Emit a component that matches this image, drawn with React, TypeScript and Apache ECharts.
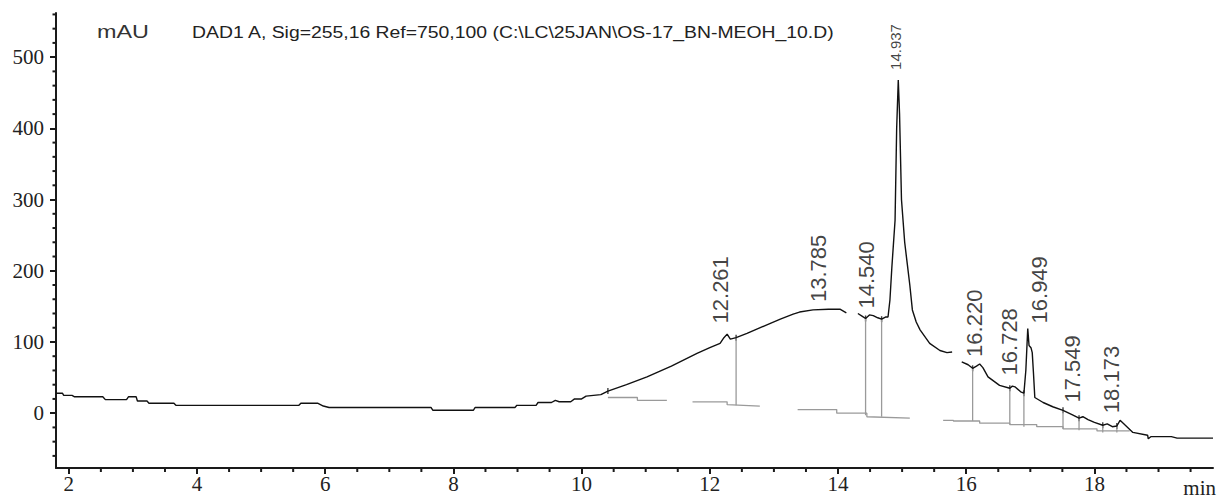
import React, { useEffect, useRef } from "react";
import * as echarts from "echarts";

// ---- data ----
const traceTime = [
  1.8, 1.9, 1.92, 2.05, 2.09, 2.53, 2.57, 2.9, 2.93, 3.05, 3.07, 3.22, 3.25, 3.64, 3.67, 5.59, 5.62, 5.88, 5.97, 6.06,
  7.65, 7.68, 8.31, 8.34, 8.96, 8.99, 9.29, 9.32, 9.53, 9.59, 9.65, 9.83, 9.89, 10.0, 10.07, 10.3, 10.41, 10.7, 11.02,
  11.4, 11.8, 12.0, 12.16, 12.22, 12.27, 12.32, 12.41, 12.58, 12.89, 13.1, 13.3, 13.4, 13.61, 13.85, 14.03, 14.13,
  14.22, 14.31, 14.38, 14.43, 14.49, 14.55, 14.62, 14.68, 14.74, 14.78, 14.81, 14.84, 14.89, 14.915, 14.94, 14.96,
  14.99, 15.04, 15.08, 15.12, 15.16, 15.22, 15.28, 15.43, 15.59, 15.7, 15.78, 15.85, 15.93, 16.03, 16.1, 16.16, 16.21,
  16.26, 16.34, 16.52, 16.68, 16.72, 16.76, 16.85, 16.9, 16.93, 16.96, 16.98, 17.01, 17.03, 17.05, 17.07, 17.2, 17.35,
  17.51, 17.65, 17.76, 17.82, 17.9, 18.0, 18.13, 18.2, 18.28, 18.35, 18.4, 18.47, 18.6, 18.83, 18.84, 18.88, 19.2,
  19.29, 19.85,
];
const traceSignal = [
  28, 28, 25, 25, 23, 23, 19, 19, 23, 23, 17, 17, 14, 14, 11, 11, 14, 14, 10, 8,
  8, 4, 4, 8, 8, 11, 11, 15, 15, 18, 16, 16, 20, 20, 24, 26, 31, 40, 51,
  66, 84, 92, 98, 106, 111, 104, 106, 112, 124, 132, 139, 142, 145, 146, 146, 141,
  null, 140, 136, 133, 138, 137, 134, 132, 135, 135, 159, 205, 271, 400, 468, 420,
  300, 240, 210, 180, 145, 128, 117, 98, 88, 85, 86, null, 72, 68, 63, 66, 69,
  64, 51, 39, 35, 38, 37, 30, 28, 60, 119, 95, 92, 85, 55, 22, 15, 9,
  4, -2, -7, -5, -9, -13, -17, -15, -19, -18, -10, -16, -27, -31, -36, -33, -33,
  -35, -35,
];

// integration baseline (grey), null = break between segments
const baselineTime = [
  10.41, 10.87, 10.87, 11.33, 11.5,
  11.73, 12.27, 12.27, 12.78, 13.0,
  13.37, 13.98, 13.98, 14.45, 14.45, 15.12, 15.3,
  15.64, 15.8, 15.8, 16.21, 16.21, 16.68, 16.68, 17.1, 17.1, 17.51, 17.51, 18.04, 18.04, 18.55,
];
const baselineSignal = [
  22, 22, 18, 18, null,
  16, 16, 12, 10, null,
  5, 5, 0, 0, -5, -7, null,
  -10, -10, -11, -11, -14, -14, -16, -16, -19, -19, -22, -22, -25, -25, -27,
];

// drop lines from the peak start/end points down to the baseline
const dropTime = [12.41, 14.43, 14.68, 16.1, 16.68, 16.9, 17.51, 17.76, 18.13, 18.35];
const dropTop = [106, 133, 132, 63, 35, 28, 4, -7, -17, -18];
const dropBottom = [11, -3, -5, -11, -16, -19, -22, -24, -27, -27];

// retention-time labels
const peakNames = ["12.261", "13.785", "14.540", "14.937", "16.220", "16.728", "16.949", "17.549", "18.173"];
const peakLabelTime = [12.16, 13.69, 14.45, 14.9, 16.13, 16.68, 17.15, 17.66, 18.27];
const peakLabelBase = [126, 156, 147, 482, 79, 53, 126, 15, 0];
const mainPeak = "14.937";

const xMajorTicks = [2, 4, 6, 8, 10, 12, 14, 16, 18];
const yMajorTicks = [0, 100, 200, 300, 400, 500];
const xMin = 1.8;
const xMax = 19.85;
const yMin = -77;
const yMax = 562;

const xMinorTicks: number[] = [];
for (let v = 2.5; v <= 19.5 + 1e-9; v += 0.5) if (Math.abs(v % 2) > 1e-6) xMinorTicks.push(+v.toFixed(1));
const yMinorTicks: number[] = [];
for (let v = -60; v <= 560; v += 20) if (v % 100 !== 0) yMinorTicks.push(v);

const titleUnit = "mAU";
const titleText = "DAD1 A, Sig=255,16 Ref=750,100 (C:\\LC\\25JAN\\OS-17_BN-MEOH_10.D)";
const xUnit = "min";

export default function App() {
  const ref = useRef<HTMLDivElement>(null);

  useEffect(() => {
    if (!ref.current) return;
    const chart = echarts.init(ref.current, undefined, { renderer: "svg" });

    const trace = traceTime.map((t, i) => [t, traceSignal[i] === null ? "-" : traceSignal[i]]);
    const baseline = baselineTime.map((t, i) => [t, baselineSignal[i] === null ? "-" : baselineSignal[i]]);
    const drops: any[] = [];
    dropTime.forEach((t, i) => {
      drops.push([t, dropTop[i]]);
      drops.push([t, dropBottom[i]]);
      drops.push([t, "-"]);
    });
    const marks: any[] = [[10.41, 31], ...dropTime.map((t, i) => [t, dropTop[i]])];

    const axisColor = "#1a1a1a";
    const serif = "Liberation Serif";
    const isMajor = (list: number[], v: number) => list.some((m) => Math.abs(m - v) < 1e-6);

    const texts: any[] = [
      {
        type: "text",
        x: 97,
        y: 32,
        scaleX: 1.3,
        style: { text: titleUnit, fontFamily: "Liberation Sans", fontSize: 18, fill: "#333", verticalAlign: "middle" },
      },
      {
        type: "text",
        x: 192,
        y: 32,
        scaleX: 1.14,
        style: { text: titleText, fontFamily: "Liberation Sans", fontSize: 17, fill: "#222", verticalAlign: "middle" },
      },
      {
        type: "text",
        x: 1216,
        y: 488,
        style: { text: xUnit, fontFamily: serif, fontSize: 21, fill: "#222", align: "right", verticalAlign: "middle" },
      },
    ];

    chart.setOption({
      animation: false,
      textStyle: { fontFamily: serif, fontSize: 21, color: "#222" },
      grid: { left: 56, right: 5, top: 13, bottom: 31 },
      xAxis: {
        type: "value",
        min: xMin,
        max: xMax,
        splitNumber: 9,
        splitLine: { show: false },
        axisLine: { show: true, onZero: false, lineStyle: { color: axisColor, width: 2 } },
        axisTick: { show: true, customValues: xMajorTicks, length: 6, lineStyle: { color: axisColor, width: 2 } },
        axisLabel: {
          show: true,
          formatter: (v: number) => (isMajor(xMajorTicks, v) ? String(v) : ""),
          fontFamily: serif,
          fontSize: 21,
          color: "#222",
          margin: 5,
        },
      },
      yAxis: {
        type: "value",
        min: yMin,
        max: yMax,
        splitNumber: 6,
        splitLine: { show: false },
        axisLine: { show: true, onZero: false, lineStyle: { color: axisColor, width: 2 } },
        axisTick: { show: true, customValues: yMajorTicks, length: 6, lineStyle: { color: axisColor, width: 2 } },
        axisLabel: {
          show: true,
          formatter: (v: number) => (isMajor(yMajorTicks, v) ? String(v) : ""),
          fontFamily: serif,
          fontSize: 21,
          color: "#222",
          margin: 12,
        },
      },
      series: [
        {
          type: "line",
          data: baseline,
          symbol: "none",
          connectNulls: false,
          lineStyle: { color: "#9a9a9a", width: 1.3 },
        },
        {
          type: "line",
          data: drops,
          symbol: "none",
          connectNulls: false,
          lineStyle: { color: "#9a9a9a", width: 1.3 },
        },
        {
          type: "line",
          data: trace,
          symbol: "none",
          connectNulls: false,
          lineStyle: { color: "#111", width: 1.4 },
        },
        {
          type: "scatter",
          data: marks,
          symbol: "rect",
          symbolSize: [1.4, 6],
          itemStyle: { color: "#111" },
        },
        {
          type: "scatter",
          symbolSize: 0,
          itemStyle: { color: "rgba(0,0,0,0)" },
          data: peakNames.map((n, i) => ({
            name: n,
            value: [peakLabelTime[i], peakLabelBase[i]],
            label: n === mainPeak ? { fontSize: 15 } : undefined,
          })),
          label: {
            show: true,
            formatter: "{b}",
            position: "top",
            distance: 0,
            rotate: 90,
            align: "left",
            verticalAlign: "middle",
            fontFamily: "Liberation Sans",
            fontSize: 22,
            color: "#111",
          },
        },
      ],
      graphic: texts,
    });

    // minor ticks positioned through the axes' own scales
    const minor: any[] = [];
    xMinorTicks.forEach((t) => {
      const p = chart.convertToPixel({ gridIndex: 0 }, [t, yMin]) as number[];
      minor.push({
        type: "line",
        shape: { x1: p[0], y1: p[1], x2: p[0], y2: p[1] + 4 },
        style: { stroke: axisColor, lineWidth: 2 },
      });
    });
    yMinorTicks.forEach((v) => {
      const p = chart.convertToPixel({ gridIndex: 0 }, [xMin, v]) as number[];
      minor.push({
        type: "line",
        shape: { x1: p[0], y1: p[1], x2: p[0] - 3.5, y2: p[1] },
        style: { stroke: axisColor, lineWidth: 2 },
      });
    });
    chart.setOption({ graphic: [...texts, ...minor] });

    return () => chart.dispose();
  }, []);

  return (
    <div
      ref={ref}
      style={{ position: "fixed", left: 0, top: 0, width: 1218, height: 499, background: "#fff" }}
    />
  );
}
